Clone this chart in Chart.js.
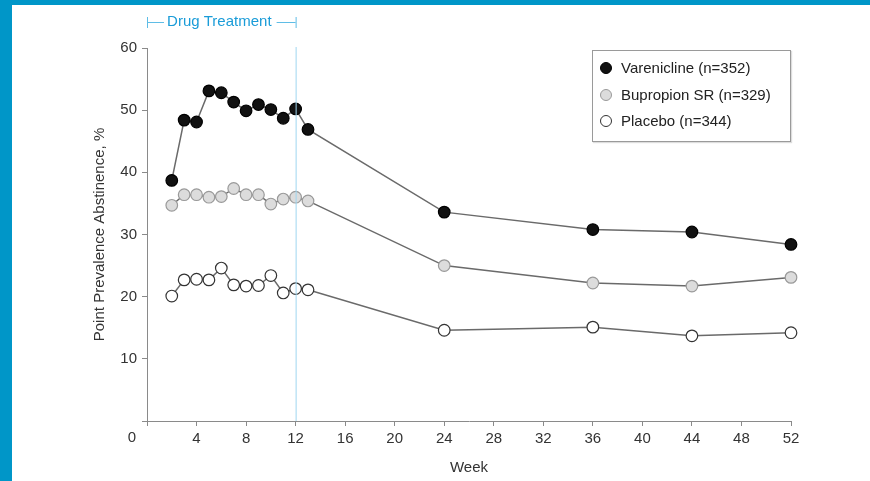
<!DOCTYPE html>
<html>
<head>
<meta charset="utf-8">
<script src="https://cdn.jsdelivr.net/npm/chart.js@4"></script>
<style>
  html, body { margin: 0; padding: 0; background: #fff; }
  body { width: 870px; height: 481px; position: relative; overflow: hidden; font-family: "Liberation Sans", Arial, sans-serif; }
  .strip { position: absolute; background: #0096c8; }
  #wrap { position: absolute; left: 0; top: 0; width: 870px; height: 481px; }
  #legend {
    position: absolute; left: 592px; top: 50px; width: 197px; height: 90px;
    border: 1px solid #9a9a9a; background: #fff; box-shadow: 1px 1px 1px #ddd;
  }
  .item { position: absolute; left: 0; height: 20px; font-size: 15px; color: #222; line-height: 20px; white-space: nowrap; }
  .dot { position: absolute; left: 7px; top: 4px; width: 12px; height: 12px; border-radius: 50%; box-sizing: border-box; }
  .lbl { position: absolute; left: 28px; top: 0; }
</style>
</head>
<body>
<div class="strip" style="left:0;top:0;width:12px;height:481px"></div>
<div class="strip" style="left:0;top:0;width:870px;height:5px"></div>
<div id="wrap"><canvas id="chart"></canvas></div>
<div id="legend"></div>
<script>
// values
const weeks = [2, 3, 4, 5, 6, 7, 8, 9, 10, 11, 12, 13, 24, 36, 44, 52];
const varenicline = [38.7, 48.4, 48.1, 53.1, 52.8, 51.3, 49.9, 50.9, 50.1, 48.7, 50.2, 46.9, 33.6, 30.8, 30.4, 28.4];
const bupropion = [34.7, 36.4, 36.4, 36.0, 36.1, 37.4, 36.4, 36.4, 34.9, 35.7, 36.0, 35.4, 25.0, 22.2, 21.7, 23.1];
const placebo = [20.1, 22.7, 22.8, 22.7, 24.6, 21.9, 21.7, 21.8, 23.4, 20.6, 21.3, 21.1, 14.6, 15.1, 13.7, 14.2];
const seriesNames = ['Varenicline (n=352)', 'Bupropion SR (n=329)', 'Placebo (n=344)'];
const treatmentEnd = 12;

const markerFill = ['#111111', '#dcdcdc', '#ffffff'];
const markerEdge = ['#000000', '#9a9a9a', '#333333'];
const series = [varenicline, bupropion, placebo];

const axisColor = '#8a8a8a';
const fontFamily = '"Liberation Sans", Arial, sans-serif';
Chart.defaults.font.family = fontFamily;
Chart.defaults.font.size = 15;
Chart.defaults.color = '#333';

// drug treatment bracket, week-12 line and corner "0" label
const annotations = {
  id: 'annotations',
  afterDraw(chart) {
    const { ctx, chartArea, scales: { x } } = chart;
    const x0 = x.getPixelForValue(0);
    const x12 = x.getPixelForValue(treatmentEnd);
    ctx.save();
    ctx.strokeStyle = '#9fd6f0';
    ctx.lineWidth = 1;
    ctx.beginPath();
    ctx.moveTo(x12 + 0.5, chartArea.top - 1);
    ctx.lineTo(x12 + 0.5, chartArea.bottom);
    ctx.stroke();

    const y = 22;
    ctx.strokeStyle = '#5fbde6';
    ctx.beginPath();
    ctx.moveTo(x0 + 0.5, y - 5); ctx.lineTo(x0 + 0.5, y + 6);
    ctx.moveTo(x0, y + 0.5); ctx.lineTo(x0 + 17, y + 0.5);
    ctx.moveTo(x12 - 19, y + 0.5); ctx.lineTo(x12, y + 0.5);
    ctx.moveTo(x12 + 0.5, y - 5); ctx.lineTo(x12 + 0.5, y + 6);
    ctx.stroke();
    ctx.fillStyle = '#1a9cd8';
    ctx.font = '15px ' + fontFamily;
    ctx.textAlign = 'center';
    ctx.textBaseline = 'middle';
    ctx.fillText('Drug Treatment', (x0 + x12) / 2 - 2, y);

    ctx.fillStyle = '#333';
    ctx.fillText('0', x0 - 15, chartArea.bottom + 17);
    ctx.restore();
  }
};

new Chart(document.getElementById('chart'), {
  type: 'line',
  data: {
    datasets: series.map((vals, i) => ({
      label: seriesNames[i],
      data: weeks.map((w, k) => ({ x: w, y: vals[k] })),
      borderColor: '#6a6a6a',
      borderWidth: 1.5,
      backgroundColor: markerFill[i],
      pointBackgroundColor: markerFill[i],
      pointBorderColor: markerEdge[i],
      pointBorderWidth: 1.2,
      pointRadius: 5.8,
      tension: 0,
      clip: false
    }))
  },
  options: {
    responsive: true,
    maintainAspectRatio: false,
    animation: false,
    layout: { padding: { left: 0, top: 48, right: 79, bottom: 0 } },
    plugins: { legend: { display: false }, tooltip: { enabled: false } },
    scales: {
      x: {
        type: 'linear',
        min: 0,
        max: 52,
        afterFit: s => { s.height = 60; },
        ticks: { stepSize: 4, padding: 4, color: '#333', callback: v => (v === 0 ? '' : v) },
        grid: { drawOnChartArea: false, drawTicks: true, tickLength: 5, color: axisColor },
        border: { display: true, color: axisColor, width: 1 },
        title: { display: true, text: 'Week', color: '#333', font: { size: 15 }, padding: { top: 2, bottom: 4 } }
      },
      y: {
        min: 0,
        max: 60,
        afterFit: s => { s.width = 147; },
        ticks: { stepSize: 10, padding: 5, color: '#333', callback: v => (v === 0 ? '' : v) },
        grid: { drawOnChartArea: false, drawTicks: true, tickLength: 5, color: axisColor },
        border: { display: true, color: axisColor, width: 1 },
        title: { display: true, text: 'Point Prevalence Abstinence, %', color: '#333', font: { size: 15 }, padding: { top: 91, bottom: 0 } }
      }
    }
  },
  plugins: [annotations]
});

// legend box
const legend = document.getElementById('legend');
seriesNames.forEach((name, i) => {
  const row = document.createElement('div');
  row.className = 'item';
  row.style.top = (7 + i * 26.5) + 'px';
  row.innerHTML = '<span class="dot" style="background:' + markerFill[i] + ';border:1.2px solid ' +
    markerEdge[i] + '"></span><span class="lbl">' + name + '</span>';
  legend.appendChild(row);
});
</script>
</body>
</html>
